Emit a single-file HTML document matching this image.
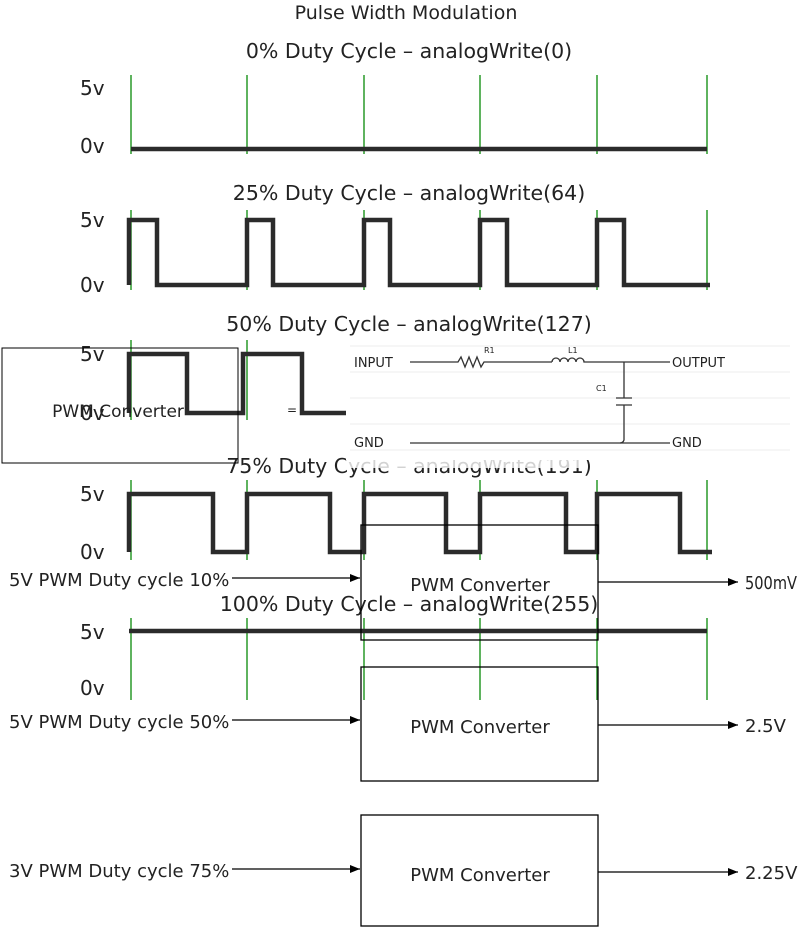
<!DOCTYPE html>
<html><head><meta charset="utf-8"><style>
html,body{margin:0;padding:0;background:#fff}
svg{display:block}
text{font-family:"DejaVu Sans","Liberation Sans",sans-serif;fill:#222}
</style></head><body>
<svg width="800" height="930" viewBox="0 0 800 930" xmlns="http://www.w3.org/2000/svg">
<defs><marker id="ah" markerWidth="10" markerHeight="8" refX="10" refY="4" orient="auto" markerUnits="userSpaceOnUse"><path d="M0,0 L10,4 L0,8 z" fill="#000"/></marker></defs>
<text x="406" y="19" font-size="19" text-anchor="middle">Pulse Width Modulation</text>
<g font-size="20.5" text-anchor="middle">
<text x="409" y="58">0% Duty Cycle – analogWrite(0)</text>
<text x="409" y="200">25% Duty Cycle – analogWrite(64)</text>
<text x="409" y="331">50% Duty Cycle – analogWrite(127)</text>
<text x="409" y="473">75% Duty Cycle – analogWrite(191)</text>
<text x="409" y="611">100% Duty Cycle – analogWrite(255)</text>
</g>
<g font-size="20">
<text x="80" y="95">5v</text><text x="80" y="153">0v</text>
<text x="80" y="227">5v</text><text x="80" y="292">0v</text>
<text x="80" y="361">5v</text><text x="80" y="420">0v</text>
<text x="80" y="501">5v</text><text x="80" y="559">0v</text>
<text x="80" y="639">5v</text><text x="80" y="695">0v</text>
</g>
<g stroke="#2a9a2a" stroke-width="1.5">
<path d="M131 75V154M247 75V154M364 75V154M480 75V154M597 75V154M707 75V154"/>
<path d="M131 210V290M247 210V290M364 210V290M480 210V290M597 210V290M707 210V290"/>
<path d="M131 340V420M247 340V420M364 340V420M480 340V420M597 340V420M707 340V420"/>
<path d="M131 480V560M247 480V560M364 480V560M480 480V560M597 480V560M707 480V560"/>
<path d="M131 618V700M247 618V700M364 618V700M480 618V700M597 618V700M707 618V700"/>
</g>
<g fill="none" stroke="#2b2b2b" stroke-width="4.5">
<path d="M131 149H707"/>
<path d="M129 285V220H157V285H247V220H273V285H364V220H390V285H480V220H507V285H597V220H624V285H710"/>
<path d="M129 413V354H187V413H243V354H302V413H420"/>
<path d="M129 552V494H213V552H247V494H330V552H364V494H446V552H480V494H566V552H597V494H680V552H712"/>
<path d="M129 631H707"/>
</g>
<rect x="346" y="338" width="454" height="122" fill="#fff"/>
<rect x="346" y="460" width="240" height="8" fill="#fff" opacity="0.8"/>
<g stroke="#eee" stroke-width="1">
<path d="M350 346H790M350 372H790M350 398H790M350 424H790M350 450H790"/>
</g>
<g font-family="Liberation Sans" font-size="13">
<text x="354" y="367">INPUT</text><text x="672" y="367">OUTPUT</text>
<text x="354" y="447">GND</text><text x="672" y="447">GND</text>
<text x="484" y="353" font-size="8">R1</text><text x="568" y="353" font-size="8">L1</text><text x="596" y="391" font-size="8">C1</text>
<text x="287" y="414" font-size="12">=</text>
</g>
<g fill="none" stroke="#333" stroke-width="1.3">
<path d="M410 362H458L461 357L465 367L469 357L473 367L477 357L481 367L484 362H552"/>
<path d="M552 362a4 4 0 0 1 8 0a4 4 0 0 1 8 0a4 4 0 0 1 8 0a4 4 0 0 1 8 0H670"/>
<path d="M624 362V398M616 398H632M616 405H632M624 405V440Q623 443 620 443"/>
<path d="M410 443H670"/>
</g>
<rect x="2" y="348" width="236" height="115" fill="none" stroke="#000" stroke-width="1"/>
<text x="118" y="417" font-size="17" text-anchor="middle">PWM Converter</text>
<g fill="none" stroke="#000" stroke-width="1.3">
<rect x="361" y="525" width="237" height="115"/>
<rect x="361" y="667" width="237" height="114"/>
<rect x="361" y="815" width="237" height="111"/>
</g>
<g stroke="#000" stroke-width="1.3" marker-end="url(#ah)">
<path d="M232 578H360"/><path d="M598 582H738"/>
<path d="M232 720H360"/><path d="M598 725H738"/>
<path d="M232 869H360"/><path d="M598 872H738"/>
</g>
<g font-size="18">
<text x="480" y="591" text-anchor="middle">PWM Converter</text>
<text x="480" y="733" text-anchor="middle">PWM Converter</text>
<text x="480" y="881" text-anchor="middle">PWM Converter</text>
<text x="9" y="586">5V PWM Duty cycle 10%</text>
<text x="9" y="728">5V PWM Duty cycle 50%</text>
<text x="9" y="877">3V PWM Duty cycle 75%</text>
<text x="745" y="589" textLength="52" lengthAdjust="spacingAndGlyphs">500mV</text>
<text x="745" y="732">2.5V</text>
<text x="745" y="879">2.25V</text>
</g>
</svg>
</body></html>
